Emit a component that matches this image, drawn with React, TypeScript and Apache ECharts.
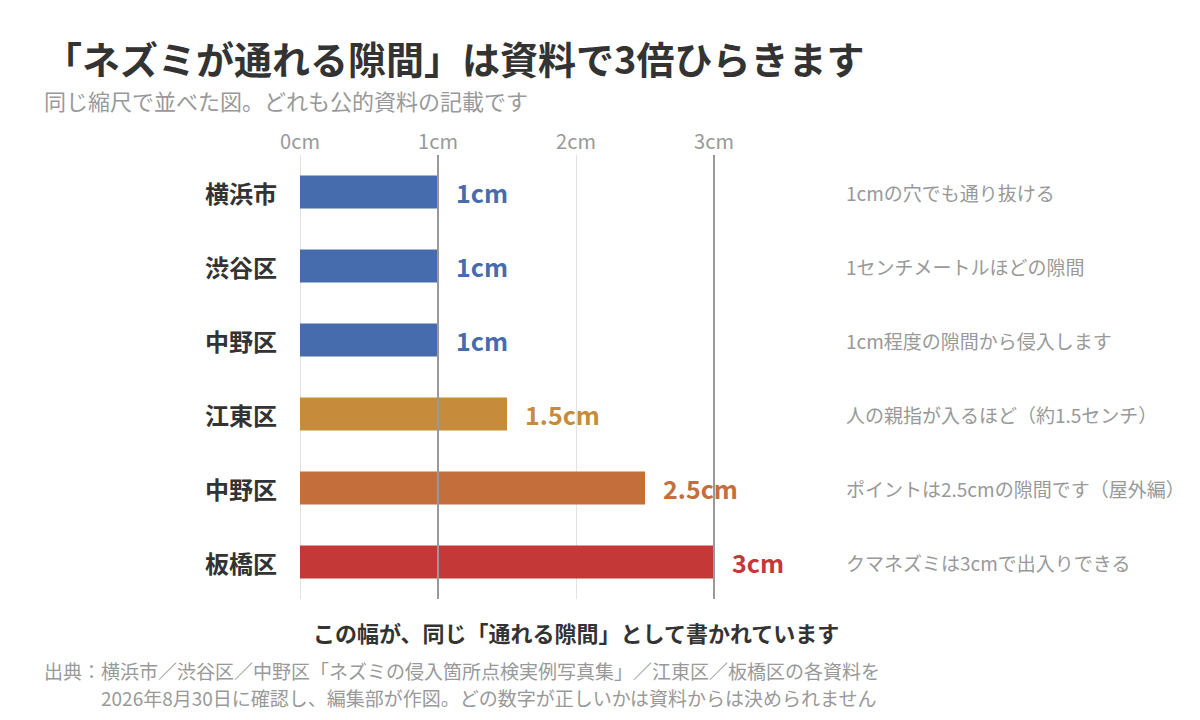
import React, { useEffect, useRef } from 'react';
import * as echarts from 'echarts';

const FONT = '"Noto Sans CJK JP", "Noto Sans", sans-serif';

// 自治体ごとの「ネズミが通れる隙間」(cm)
const cities = ['横浜市', '渋谷区', '中野区', '江東区', '中野区', '板橋区'];
const gaps = [1, 1, 1, 1.5, 2.5, 3];
const barColors = ['#466cae', '#466cae', '#466cae', '#c68c3c', '#c46e3b', '#c43838'];
const notes = [
  '1cmの穴でも通り抜ける',
  '1センチメートルほどの隙間',
  '1cm程度の隙間から侵入します',
  '人の親指が入るほど（約1.5センチ）',
  'ポイントは2.5cmの隙間です（屋外編）',
  'クマネズミは3cmで出入りできる',
];
const refLines = [1, 3];

const title = '「ネズミが通れる隙間」は資料で3倍ひらきます';
const subtitle = '同じ縮尺で並べた図。どれも公的資料の記載です';
const caption = 'この幅が、同じ「通れる隙間」として書かれています';
const source1 = '出典：横浜市／渋谷区／中野区「ネズミの侵入箇所点検実例写真集」／江東区／板橋区の各資料を';
const source2 = '2026年8月30日に確認し、編集部が作図。どの数字が正しいかは資料からは決められません';

export default function App() {
  const chartRef = useRef<HTMLDivElement>(null);

  useEffect(() => {
    document.body.style.margin = '0';
    const chart = echarts.init(chartRef.current, null, { renderer: 'svg' });

    const option = {
      animation: false,
      textStyle: { fontFamily: FONT },
      grid: { left: 300, right: 486, top: 155, height: 444 },
      xAxis: {
        type: 'value',
        position: 'top',
        min: 0,
        max: 3,
        interval: 1,
        axisLine: { show: false },
        axisTick: { show: false },
        axisLabel: {
          formatter: '{value}cm',
          color: '#999',
          fontSize: 20,
          margin: 5,
          fontFamily: FONT,
        },
        splitLine: { lineStyle: { color: '#e3e3e3', width: 1 } },
      },
      yAxis: [
        {
          type: 'category',
          inverse: true,
          data: cities,
          axisLine: { show: false },
          axisTick: { show: false },
          axisLabel: {
            color: '#333',
            fontSize: 24,
            fontWeight: 'bold',
            margin: 23,
            fontFamily: FONT,
          },
        },
        {
          type: 'category',
          inverse: true,
          position: 'right',
          data: notes,
          axisLine: { show: false },
          axisTick: { show: false },
          axisLabel: {
            color: '#999',
            fontSize: 19,
            align: 'left',
            margin: 132,
            fontFamily: FONT,
          },
        },
      ],
      series: [
        {
          type: 'bar',
          barWidth: 33,
          data: gaps.map((v, i) => ({
            value: v,
            itemStyle: { color: barColors[i] },
            label: { color: barColors[i] },
          })),
          label: {
            show: true,
            position: 'right',
            distance: 18,
            fontSize: 25,
            fontWeight: 'bold',
            fontFamily: FONT,
            formatter: (p: any) => `${p.value}cm`,
          },
          markLine: {
            silent: true,
            symbol: 'none',
            label: { show: false },
            lineStyle: { color: '#999', width: 2, type: 'solid' },
            data: refLines.map((x) => ({ xAxis: x })),
          },
        },
      ],
      graphic: {
        elements: [
          {
            type: 'text',
            x: 44,
            y: 57,
            style: { text: title, font: `bold 38px ${FONT}`, fill: '#333', verticalAlign: 'middle' },
          },
          {
            type: 'text',
            x: 44,
            y: 100,
            style: { text: subtitle, font: `22px ${FONT}`, fill: '#999', verticalAlign: 'middle' },
          },
          {
            type: 'text',
            x: 313,
            y: 632,
            style: { text: caption, font: `bold 22px ${FONT}`, fill: '#333', verticalAlign: 'middle' },
          },
          {
            type: 'text',
            x: 44,
            y: 670,
            style: { text: source1, font: `19px ${FONT}`, fill: '#999', verticalAlign: 'middle' },
          },
          {
            type: 'text',
            x: 101,
            y: 697,
            style: { text: source2, font: `19px ${FONT}`, fill: '#999', verticalAlign: 'middle' },
          },
        ],
      },
    };

    chart.setOption(option);
    return () => {
      chart.dispose();
    };
  }, []);

  return <div ref={chartRef} style={{ width: 1200, height: 720 }} />;
}
